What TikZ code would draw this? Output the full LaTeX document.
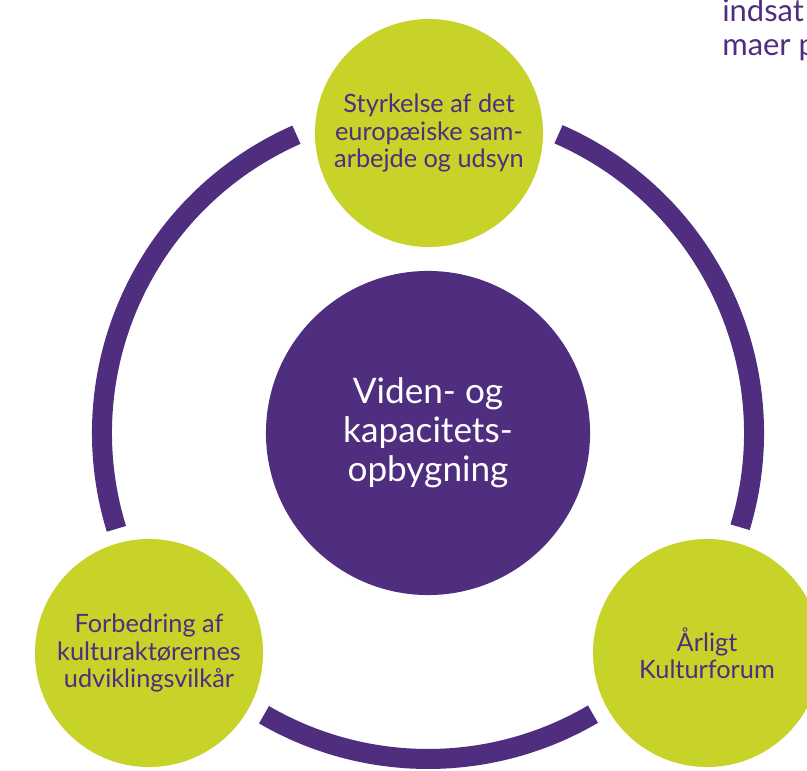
\documentclass[tikz,border=0pt]{standalone}
\usepackage{fontspec}
\setmainfont{Lato}
\definecolor{lilla}{RGB}{79,45,127}
\definecolor{limegul}{RGB}{200,211,42}
\tikzset{
    x=0.025cm, y=0.025cm, % one unit is one pixel of the reference
    bubble/.style={circle, fill=limegul, text=lilla, align=center, inner sep=0pt, minimum size=5.7cm, font=\fontsize{18}{19.5}\selectfont}, % the three small circles
    centre/.style={circle, fill=lilla, text=white, align=center, inner sep=0pt, minimum size=8.1cm, font=\fontsize{25}{27.6}\selectfont}, % the big circle in the middle
    ring/.style={draw=lilla, line width=0.5cm}, % pieces of the outer ring
    note/.style={anchor=base west, text=lilla, inner sep=0pt, font=\fontsize{22}{25.6}\selectfont}, % cut text in the corner
}
\begin{document}
\begin{tikzpicture}
    \useasboundingbox (0,0) rectangle (807,770);
    \clip (0,0) rectangle (807,770);
    \node[centre] (hub) at (428,337) {Viden- og\\kapacitets-\\opbygning};
    \node[bubble] (s1) at (429,637) {Styrkelse af det\\europæiske sam-\\arbejde og udsyn};
    \node[bubble] (s2) at (149,117) {Forbedring af\\kulturaktørernes\\udviklingsvilkår};
    \node[bubble] (s3) at (707,117) {Årligt\\Kulturforum};
    \foreach \a/\b in {113.8/197.1, 239.8/300.4, -16.8/66.4}
        \draw[ring] (hub.center) ++(\a:326) arc[start angle=\a, end angle=\b, radius=326];
    \node[note] (n1) at (722,748) {indsat};
    \node[note] (n2) at (722,714) {maer p};
\end{tikzpicture}
\end{document}
